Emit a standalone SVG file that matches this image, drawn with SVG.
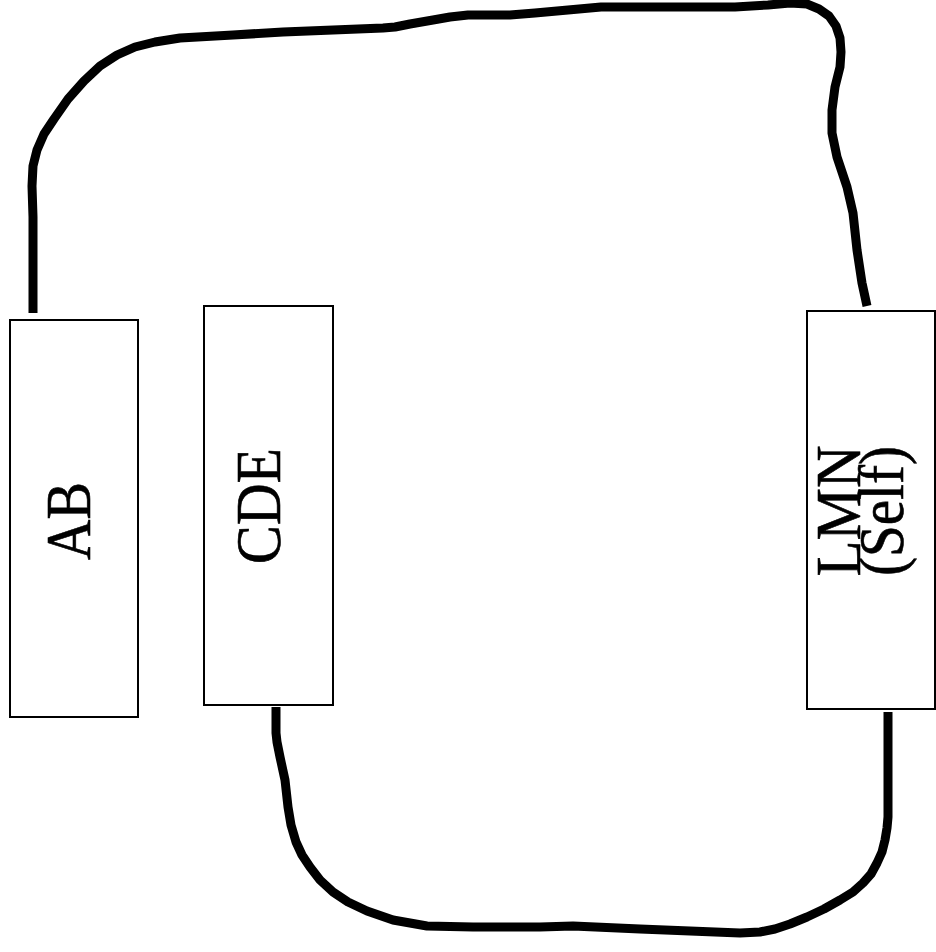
<svg xmlns="http://www.w3.org/2000/svg" width="936" height="952" viewBox="0 0 936 952">
<style>
.box{fill:#fff;stroke:#000;stroke-width:2}
.lbl{font-family:"Liberation Serif","Times New Roman",serif;font-size:63px;fill:#000;stroke:#000;stroke-width:0.6;text-anchor:middle}
.conn{fill:none;stroke:#000;stroke-width:9;stroke-linejoin:round;stroke-linecap:butt}
</style>
<rect width="936" height="952" fill="#fff"/>
<g id="connectors">
<path class="conn" d="M33,313 L33,217 L32,186 L33,166 L37,150 L44,134 L54,119 L68,99 L84,81 L100,66 L117,55 L135,47 L155,42 L180,38 L233,35 L283,32 L333,30 L383,28 L395,27 L410,24 L433,20 L450,17 L468,15 L490,15 L510,15 L535,13 L568,10 L601,7 L735,7 L768,5 L790,3 L807,4 L819,9 L829,16 L836,26 L840,38 L841,52 L840,67 L835,87 L832,110 L832,133 L837,157 L847,187 L853,213 L857,250 L862,283 L867,306"/>
<path class="conn" d="M276,707 L276,733 L277,742 L280,757 L285,780 L288,807 L291,825 L296,842 L302,855 L310,867 L320,880 L333,892 L348,902 L367,911 L393,920 L427,926 L473,927 L540,927 L573,926 L640,929 L740,933 L760,932 L775,929 L790,924 L807,917 L824,909 L840,900 L853,892 L863,883 L871,874 L877,863 L882,852 L885,840 L887,828 L888,817 L888,767 L888,712"/>
</g>
<g id="node-ab">
<rect class="box" x="10" y="320" width="128" height="397"/>
<text class="lbl" transform="translate(90,521) rotate(-90)" textLength="78" lengthAdjust="spacingAndGlyphs">AB</text>
</g>
<g id="node-cde">
<rect class="box" x="204" y="306" width="129" height="399"/>
<text class="lbl" transform="translate(280,506) rotate(-90)" textLength="116" lengthAdjust="spacingAndGlyphs">CDE</text>
</g>
<g id="node-lmn">
<rect class="box" x="807" y="311" width="128" height="398"/>
<text class="lbl" transform="translate(860,511) rotate(-90)" textLength="131" lengthAdjust="spacingAndGlyphs">LMN</text>
<text class="lbl" transform="translate(903,511) rotate(-90)" textLength="130" lengthAdjust="spacingAndGlyphs">(Self)</text>
</g>
</svg>
